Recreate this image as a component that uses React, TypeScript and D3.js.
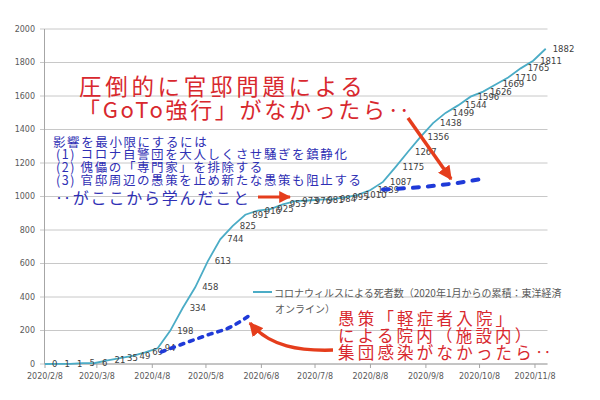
import React from 'react';
import * as d3 from 'd3';

// Weekly cumulative deaths (labels from chart)
const weekDates = [
  '2020/02/08','2020/02/15','2020/02/22','2020/02/29','2020/03/07','2020/03/14','2020/03/21','2020/03/28',
  '2020/04/04','2020/04/11','2020/04/18','2020/04/25','2020/05/02','2020/05/09','2020/05/16','2020/05/23',
  '2020/05/30','2020/06/06','2020/06/13','2020/06/20','2020/06/27','2020/07/04','2020/07/11','2020/07/18',
  '2020/07/25','2020/08/01','2020/08/08','2020/08/15','2020/08/22','2020/08/29','2020/09/05','2020/09/12',
  '2020/09/19','2020/09/26','2020/10/03','2020/10/10','2020/10/17','2020/10/24','2020/10/31','2020/11/07',
  '2020/11/14',
];
const deaths = [
  0, 1, 1, 5, 6, 21, 35, 49,
  69, 94, 198, 334, 458, 613, 744, 825,
  891, 916, 925, 953, 973, 976, 981, 984,
  995, 1010, 1039, 1087, 1175, 1267, 1356, 1438,
  1499, 1544, 1596, 1626, 1669, 1710, 1765, 1811,
  1882,
];

// Hand-drawn hypothetical lines
const hypoADates = ['2020/04/13', '2020/04/20', '2020/05/08', '2020/05/22', '2020/06/01'];
const hypoAValues = [72, 100, 170, 222, 287];
const hypoBDates = ['2020/08/15', '2020/09/06', '2020/09/25', '2020/10/12'];
const hypoBValues = [1042, 1057, 1080, 1110];

const xTickDates = ['2020/02/08','2020/03/08','2020/04/08','2020/05/08','2020/06/08','2020/07/08','2020/08/08','2020/09/08','2020/10/08','2020/11/08'];
const xTickLabels = ['2020/2/8','2020/3/8','2020/4/8','2020/5/8','2020/6/8','2020/7/8','2020/8/8','2020/9/8','2020/10/8','2020/11/8'];
const yTicks = [0, 200, 400, 600, 800, 1000, 1200, 1400, 1600, 1800, 2000];

const legendLabel1 = 'コロナウィルスによる死者数（2020年1月からの累積：東洋経済';
const legendLabel2 = 'オンライン）';
const titleLines = ['圧倒的に官邸問題による', '「GoTo強行」がなかったら‥'];
const blueLines = [
  '影響を最小限にするには',
  '(1) コロナ自警団を大人しくさせ騒ぎを鎮静化',
  '(2) 傀儡の「専門家」を排除する',
  '(3) 官邸周辺の愚策を止め新たな愚策も阻止する',
];
const blueLast = '‥がここから学んだこと';
const bottomLines = ['愚策「軽症者入院」', 'による院内（施設内）', '集団感染がなかったら‥'];

const parse = d3.timeParse('%Y/%m/%d');

export default function App() {
  const x = d3.scaleTime()
    .domain([parse('2020/02/08')!, parse('2020/11/15')!])
    .range([45, 547.5]);
  const y = d3.scaleLinear().domain([0, 2000]).range([364, 29]);

  const mainData = weekDates.map((d, i) => ({ d: parse(d)!, v: deaths[i] }));
  const aData = hypoADates.map((d, i) => ({ d: parse(d)!, v: hypoAValues[i] }));
  const bData = hypoBDates.map((d, i) => ({ d: parse(d)!, v: hypoBValues[i] }));

  const line = d3.line<{ d: Date; v: number }>().x(p => x(p.d)).y(p => y(p.v));
  const curve = d3.line<{ d: Date; v: number }>().x(p => x(p.d)).y(p => y(p.v)).curve(d3.curveMonotoneX);

  const teal = '#4bacc6';
  const red = '#d8282e';
  const arrowRed = '#e53d1c';
  const blue = '#2f2fb4';
  const dashBlue = '#1f3ad8';
  const jp = '"Noto Sans CJK JP", "Noto Sans", sans-serif';
  const axisFont = '"DejaVu Sans", Verdana, sans-serif';

  return (
    <svg width={600} height={400} style={{ position: 'absolute', left: 0, top: 0, background: '#fff' }}>
      <defs>
        <marker id="ah" viewBox="0 0 10 10" refX={9} refY={5} markerWidth={12} markerHeight={12}
          markerUnits="userSpaceOnUse" orient="auto">
          <path d="M0,0 L10,5 L0,10 z" fill={arrowRed} />
        </marker>
        <marker id="ah2" viewBox="0 0 10 10" refX={9} refY={5} markerWidth={14} markerHeight={14}
          markerUnits="userSpaceOnUse" orient="auto">
          <path d="M0,0 L10,5 L0,10 z" fill={arrowRed} />
        </marker>
      </defs>
      <rect x={0} y={0} width={600} height={400} fill="#fff" />

      {/* gridlines */}
      {yTicks.map(t => (
        <line key={t} x1={40} x2={547.5} y1={y(t)} y2={y(t)} stroke="#c8c8c8" strokeWidth={1} />
      ))}
      {/* axes */}
      <line x1={44.5} x2={44.5} y1={y(2000)} y2={y(0)} stroke="#a6a6a6" strokeWidth={1} />
      <line x1={44.5} x2={547.5} y1={y(0)} y2={y(0)} stroke="#a6a6a6" strokeWidth={1} />
      {yTicks.map(t => (
        <text key={t} x={35} y={y(t)} textAnchor="end" dominantBaseline="central"
          fontFamily={axisFont} fontSize={8} fill="#595959">{t}</text>
      ))}
      {xTickDates.map((d, i) => (
        <g key={d}>
          <line x1={x(parse(d)!)} x2={x(parse(d)!)} y1={y(0)} y2={y(0) + 4} stroke="#a6a6a6" />
          <text x={x(parse(d)!)} y={376} textAnchor="middle" dominantBaseline="central"
            fontFamily={axisFont} fontSize={8} fill="#595959">{xTickLabels[i]}</text>
        </g>
      ))}

      {/* main series */}
      <path d={line(mainData) || ''} fill="none" stroke={teal} strokeWidth={1.8} />
      {mainData.map((p, i) => (
        <text key={i} x={x(p.d) + 7} y={y(p.v)} dominantBaseline="central"
          fontFamily={axisFont} fontSize={8.5} fill="#404040">{p.v}</text>
      ))}

      {/* hypothetical dashed lines */}
      <path d={curve(aData) || ''} fill="none" stroke={dashBlue} strokeWidth={3.6}
        strokeDasharray="4 6" strokeLinecap="round" />
      <path d={curve(bData) || ''} fill="none" stroke={dashBlue} strokeWidth={4}
        strokeDasharray="6 9" strokeLinecap="round" />

      {/* legend */}
      <line x1={253} x2={272} y1={292} y2={292} stroke={teal} strokeWidth={2} />
      <text x={274} y={292} dominantBaseline="central" fontFamily={jp} fontSize={10} fill="#595959">{legendLabel1}</text>
      <text x={275} y={308} dominantBaseline="central" fontFamily={jp} fontSize={10} fill="#595959">{legendLabel2}</text>

      {/* red title */}
      <text x={79} y={85} dominantBaseline="central" fontFamily={jp} fontSize={22.5} letterSpacing={3.7}
        fill={red}>{titleLines[0]}</text>
      <text x={78} y={108} dominantBaseline="central" fontFamily={jp} fontSize={22} letterSpacing={2.7}
        fill={red}>{titleLines[1]}</text>

      {/* blue text */}
      {blueLines.map((t, i) => (
        <text key={i} x={i === 0 ? 53 : 56} y={141 + i * 12.7} dominantBaseline="central"
          fontFamily={jp} fontSize={12.5} letterSpacing={1.6} fill={blue}>{t}</text>
      ))}
      <text x={55} y={197} dominantBaseline="central" fontFamily={jp} fontSize={16} letterSpacing={1.8}
        fill={blue}>{blueLast}</text>

      {/* bottom red text */}
      {bottomLines.map((t, i) => (
        <text key={i} x={338} y={318 + i * 17} dominantBaseline="central"
          fontFamily={jp} fontSize={16.5} letterSpacing={3.2} fill={red}>{t}</text>
      ))}

      {/* arrows */}
      <line x1={258} y1={197} x2={290} y2={197} stroke={arrowRed} strokeWidth={3} markerEnd="url(#ah)" />
      <line x1={408} y1={118} x2={451} y2={179} stroke={arrowRed} strokeWidth={3.5} markerEnd="url(#ah2)" />
      <path d="M333,350 C300,351 270,347 250,323" fill="none" stroke={arrowRed} strokeWidth={3.5}
        markerEnd="url(#ah2)" />
    </svg>
  );
}
